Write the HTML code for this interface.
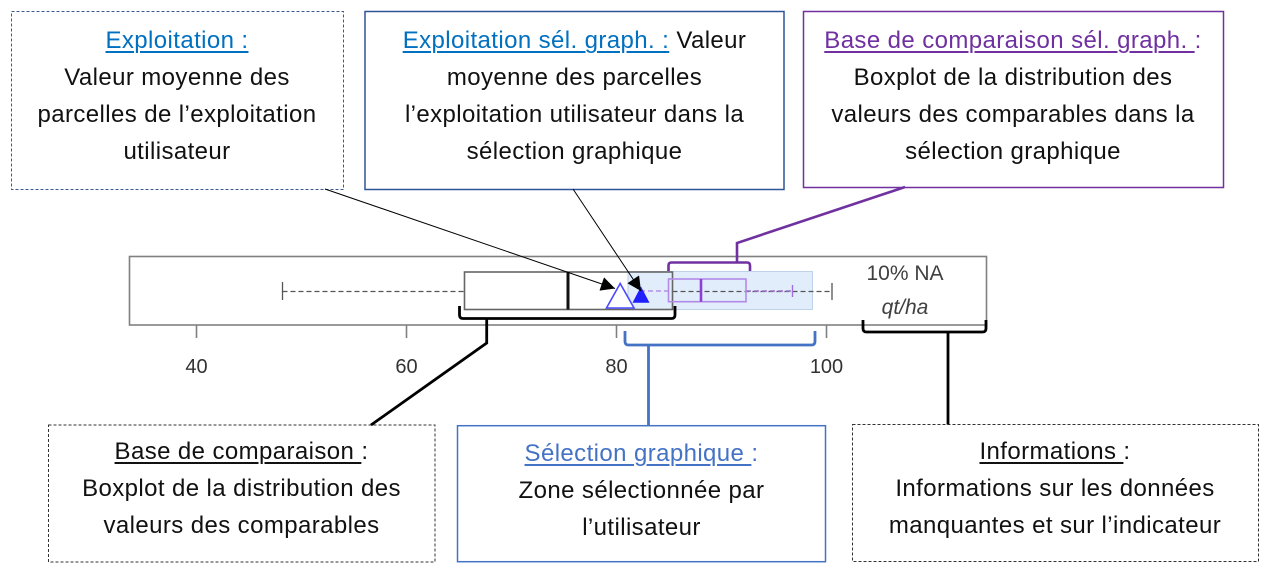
<!DOCTYPE html>
<html>
<head>
<meta charset="utf-8">
<style>
  html, body { margin:0; padding:0; background:#fff; }
  body { width:1277px; height:586px; position:relative; overflow:hidden;
         font-family:"Liberation Sans", Arial, sans-serif; }
  svg { position:absolute; left:0; top:0; }
  .t { position:absolute; width:520px; text-align:center; white-space:nowrap;
       font-size:24px; line-height:37px; color:#111; letter-spacing:0.4px; }
  .u { text-decoration:underline; text-underline-offset:3px; text-decoration-thickness:1.5px; }
  .blue { color:#0070c0; }
  .purple { color:#7030a0; }
  .lblue { color:#4472c4; }
</style>
</head>
<body>
<svg width="1277" height="586" viewBox="0 0 1277 586" xmlns="http://www.w3.org/2000/svg">
  <defs>
    <marker id="ah" viewBox="0 0 10 10" refX="10" refY="5" markerWidth="17" markerHeight="14" markerUnits="userSpaceOnUse" orient="auto">
      <path d="M0,0 L10,5 L0,10 z" fill="#000"/>
    </marker>
  </defs>

  <!-- top boxes -->
  <rect x="11.5" y="11.5" width="332" height="178" fill="none" stroke="#3b5b8f" stroke-width="1" stroke-dasharray="3,2"/>
  <rect x="365" y="11.5" width="419" height="178" fill="none" stroke="#2f5597" stroke-width="1.5"/>
  <rect x="803.5" y="11.5" width="420" height="176" fill="none" stroke="#7030a0" stroke-width="1.5"/>

  <!-- bottom boxes -->
  <rect x="48.5" y="425" width="386.5" height="137" fill="none" stroke="#333" stroke-width="1" stroke-dasharray="3,2"/>
  <rect x="457.5" y="425.7" width="368" height="136" fill="none" stroke="#4472c4" stroke-width="1.5"/>
  <rect x="852.5" y="424.5" width="406" height="137" fill="none" stroke="#333" stroke-width="1" stroke-dasharray="3,2"/>

  <!-- plot frame -->
  <rect x="129.5" y="256.5" width="857" height="68.5" fill="#fff" stroke="#808080" stroke-width="1.6"/>
  <!-- ticks -->
  <g stroke="#808080" stroke-width="1.6">
    <line x1="196.5" y1="325" x2="196.5" y2="338"/>
    <line x1="406.5" y1="325" x2="406.5" y2="338"/>
    <line x1="616.5" y1="325" x2="616.5" y2="338"/>
    <line x1="826.5" y1="325" x2="826.5" y2="338"/>
  </g>
  <g font-family="Liberation Sans, Arial, sans-serif" font-size="20" fill="#333" text-anchor="middle">
    <text x="196.5" y="373">40</text>
    <text x="406.5" y="373">60</text>
    <text x="616.5" y="373">80</text>
    <text x="826.5" y="373">100</text>
  </g>

  <!-- selection zone -->
  <rect x="628" y="271.5" width="184.5" height="38" fill="#e1edfb" stroke="#bed2ea" stroke-width="1"/>

  <!-- gray boxplot -->
  <line x1="282.5" y1="291.5" x2="464" y2="291.5" stroke="#555" stroke-width="1.3" stroke-dasharray="5,3"/>
  <line x1="282.5" y1="282" x2="282.5" y2="300" stroke="#555" stroke-width="1.3"/>
  <line x1="672.5" y1="291.5" x2="832" y2="291.5" stroke="#555" stroke-width="1.3" stroke-dasharray="5,3"/>
  <line x1="832" y1="283" x2="832" y2="300" stroke="#555" stroke-width="1.3"/>
  <rect x="464.5" y="272" width="208" height="37.5" fill="none" stroke="#666" stroke-width="1.6"/>
  <line x1="568" y1="272" x2="568" y2="309.5" stroke="#111" stroke-width="3"/>

  <!-- purple boxplot -->
  <line x1="640" y1="291" x2="668.5" y2="291" stroke="#b58ee8" stroke-width="1.4" stroke-dasharray="5,3"/>
  <line x1="746" y1="291" x2="792.5" y2="291" stroke="#9a70c8" stroke-width="1.4" stroke-dasharray="5,3"/>
  <line x1="792.5" y1="285" x2="792.5" y2="297" stroke="#a070dc" stroke-width="1.4"/>
  <rect x="668.5" y="279" width="77.5" height="22.7" fill="none" stroke="#b48ae8" stroke-width="1.6"/>
  <line x1="701" y1="279" x2="701" y2="301.7" stroke="#8c3fd6" stroke-width="2.6"/>

  <!-- triangles -->
  <polygon points="606.5,308 634,308 620.2,283.5" fill="#fff" stroke="#4a4aff" stroke-width="1.6"/>
  <polygon points="632.5,302.7 649.5,302.7 641,286.5" fill="#1f1fff"/>

  <!-- arrows -->
  <line x1="325" y1="189" x2="615" y2="288.5" stroke="#000" stroke-width="1" marker-end="url(#ah)"/>
  <line x1="573" y1="189" x2="641" y2="291" stroke="#000" stroke-width="1" marker-end="url(#ah)"/>

  <!-- purple connector -->
  <path d="M905,187 L737,243 L737,262.5 M668.5,271 L668.5,265.5 Q668.5,262.5 671.5,262.5 L747,262.5 Q750,262.5 750,265.5 L750,271" fill="none" stroke="#7030a0" stroke-width="2.6"/>

  <!-- black bracket under base box -->
  <path d="M459.5,306 L459.5,315 Q459.5,318.5 463,318.5 L671.5,318.5 Q675,318.5 675,315 L675,306 M486.7,318.5 L486.7,343 L371,425" fill="none" stroke="#000" stroke-width="2.8"/>

  <!-- blue bracket -->
  <path d="M625,331 L625,341.5 Q625,345 628.5,345 L811.5,345 Q815,345 815,341.5 L815,331 M648.5,345 L648.5,425.7" fill="none" stroke="#4472c4" stroke-width="2.8"/>

  <!-- info bracket -->
  <path d="M863,320 L863,328.5 Q863,332 866.5,332 L982.5,332 Q986,332 986,328.5 L986,320 M948,332 L948,424.5" fill="none" stroke="#000" stroke-width="2.8"/>

  <!-- info text -->
  <g font-family="Liberation Sans, Arial, sans-serif" font-size="21" fill="#404040" text-anchor="middle">
    <text x="905" y="280">10% NA</text>
    <text x="905" y="314" font-style="italic">qt/ha</text>
  </g>
</svg>

<!-- top texts -->
<div class="t" style="left:-83px; top:22.3px;">
  <span class="u blue">Exploitation :</span><br>
  Valeur moyenne des<br>
  parcelles de l’exploitation<br>
  utilisateur
</div>
<div class="t" style="left:314.5px; top:22.3px;">
  <span class="u blue">Exploitation sél. graph. :</span> Valeur<br>
  moyenne des parcelles<br>
  l’exploitation utilisateur dans la<br>
  sélection graphique
</div>
<div class="t" style="left:753px; top:22.3px;">
  <span class="purple"><span class="u">Base de comparaison sél. graph. </span>:</span><br>
  Boxplot de la distribution des<br>
  valeurs des comparables dans la<br>
  sélection graphique
</div>

<!-- bottom texts -->
<div class="t" style="left:-18.5px; top:433.3px;">
  <span class="u">Base de comparaison </span>:<br>
  Boxplot de la distribution des<br>
  valeurs des comparables
</div>
<div class="t" style="left:381.5px; top:434.8px;">
  <span class="lblue"><span class="u">Sélection graphique </span>:</span><br>
  Zone sélectionnée par<br>
  l’utilisateur
</div>
<div class="t" style="left:795px; top:433.3px;">
  <span class="u">Informations </span>:<br>
  Informations sur les données<br>
  manquantes et sur l’indicateur
</div>
</body>
</html>
